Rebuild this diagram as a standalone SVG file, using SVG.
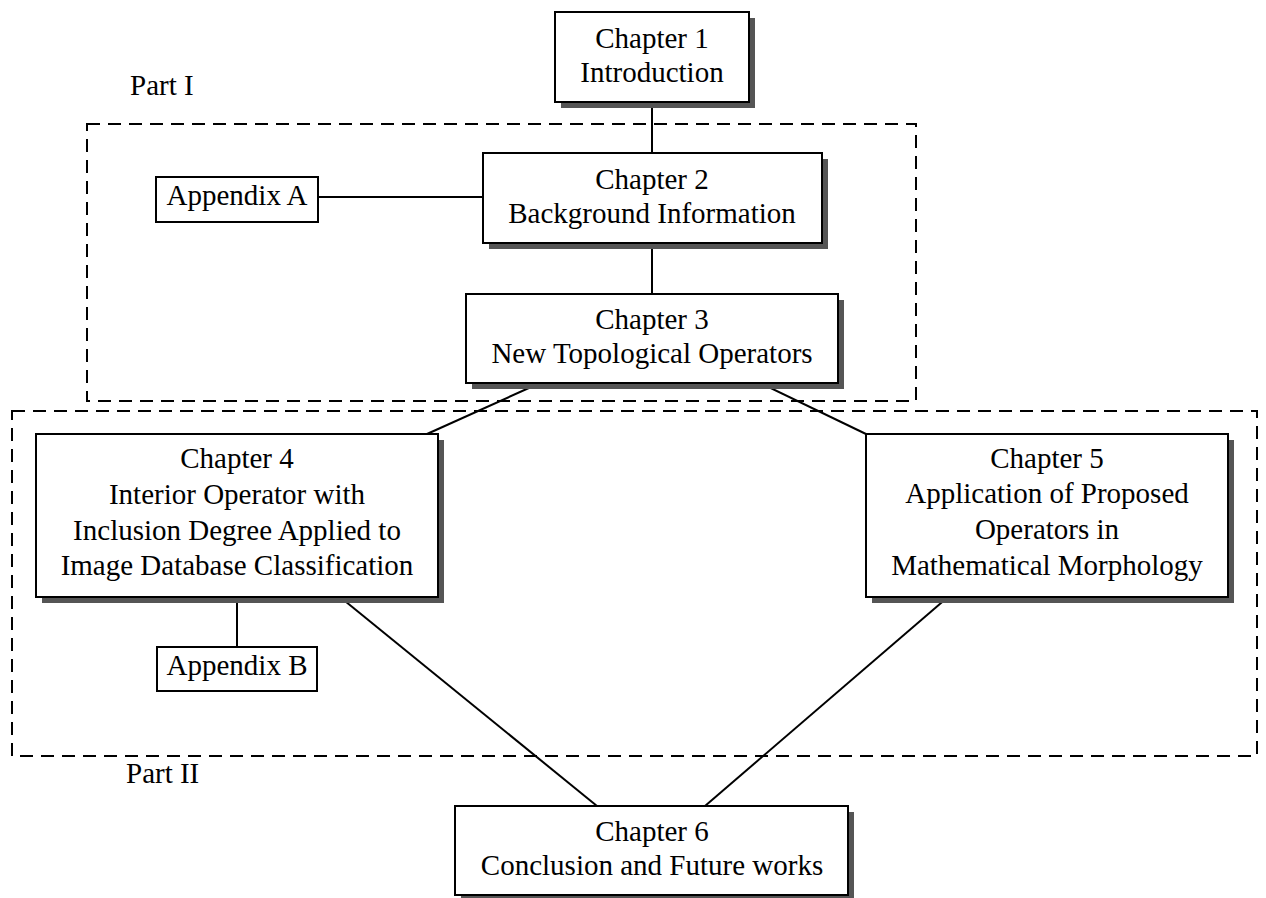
<svg xmlns="http://www.w3.org/2000/svg" width="1266" height="898" viewBox="0 0 1266 898">
<style>
text{font-family:"Liberation Serif","Times New Roman",serif;font-size:29px;fill:#000;text-anchor:middle}
.lbl{text-anchor:start}
.box{fill:#fff;stroke:#000;stroke-width:2}
.sh{fill:#555}
.part{fill:none;stroke:#000;stroke-width:2;stroke-dasharray:13 8}
.conn{stroke:#000;stroke-width:2;fill:none}
</style>
<rect width="1266" height="898" fill="#fff"/>
<g id="parts">
<rect class="part" x="87" y="124" width="829" height="277"/>
<rect class="part" x="12" y="411" width="1245" height="345"/>
<text class="lbl" x="130" y="95">Part I</text>
<text class="lbl" x="126" y="783">Part II</text>
</g>
<g id="connectors">
<line class="conn" x1="652" y1="102" x2="652" y2="153"/>
<line class="conn" x1="318" y1="197" x2="483" y2="197"/>
<line class="conn" x1="652" y1="243" x2="652" y2="294"/>
<line class="conn" x1="540" y1="383" x2="427" y2="434"/>
<line class="conn" x1="760" y1="383" x2="866" y2="434"/>
<line class="conn" x1="237" y1="597" x2="237" y2="647"/>
<line class="conn" x1="340" y1="597" x2="597" y2="806"/>
<line class="conn" x1="948" y1="597" x2="705" y2="806"/>
</g>
<g id="ch1">
<rect class="sh" x="561" y="18" width="194" height="90"/>
<rect class="box" x="555" y="12" width="194" height="90"/>
<text x="652" y="48">Chapter 1</text>
<text x="652" y="82">Introduction</text>
</g>
<g id="appA">
<rect class="box" x="156" y="177" width="162" height="45"/>
<text x="237" y="205">Appendix A</text>
</g>
<g id="ch2">
<rect class="sh" x="489" y="159" width="339" height="90"/>
<rect class="box" x="483" y="153" width="339" height="90"/>
<text x="652" y="189">Chapter 2</text>
<text x="652" y="223">Background Information</text>
</g>
<g id="ch3">
<rect class="sh" x="472" y="300" width="372" height="89"/>
<rect class="box" x="466" y="294" width="372" height="89"/>
<text x="652" y="329">Chapter 3</text>
<text x="652" y="363">New Topological Operators</text>
</g>
<g id="ch4">
<rect class="sh" x="42" y="440" width="402" height="163"/>
<rect class="box" x="36" y="434" width="402" height="163"/>
<text x="237" y="468">Chapter 4</text>
<text x="237" y="504">Interior Operator with</text>
<text x="237" y="540">Inclusion Degree Applied to</text>
<text x="237" y="575">Image Database Classification</text>
</g>
<g id="appB">
<rect class="box" x="157" y="647" width="160" height="44"/>
<text x="237" y="675">Appendix B</text>
</g>
<g id="ch5">
<rect class="sh" x="872" y="440" width="362" height="163"/>
<rect class="box" x="866" y="434" width="362" height="163"/>
<text x="1047" y="468">Chapter 5</text>
<text x="1047" y="503">Application of Proposed</text>
<text x="1047" y="539">Operators in</text>
<text x="1047" y="575">Mathematical Morphology</text>
</g>
<g id="ch6">
<rect class="sh" x="461" y="812" width="393" height="89"/>
<rect class="box" x="455" y="806" width="393" height="89"/>
<text x="652" y="841">Chapter 6</text>
<text x="652" y="875">Conclusion and Future works</text>
</g>
</svg>
